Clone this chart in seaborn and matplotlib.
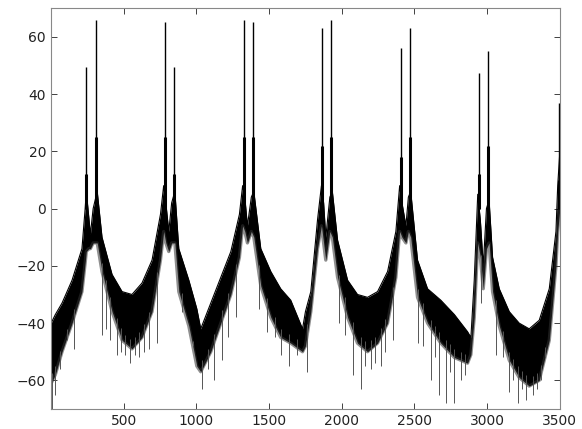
# plot.py
# Redraw of a dense spectrum-like trace with periodic twin resonance peaks.

import numpy as np
import pandas as pd
import matplotlib
matplotlib.use("Agg")
import matplotlib.pyplot as plt
import seaborn as sns

# Envelope of the dense band (sample index, top, bottom).
band_x = [1, 30, 76, 145, 213, 235, 243, 260, 271, 290, 318, 351, 420, 489, 557,
          626, 695, 753, 775, 790, 810, 830, 852, 879, 948, 1003, 1030, 1099,
          1168, 1237, 1296, 1318, 1333, 1351, 1378, 1395, 1443, 1512, 1580, 1649,
          1730, 1750, 1787, 1833, 1860, 1875, 1890, 1918, 1935, 1971, 2040, 2108,
          2177, 2246, 2315, 2372, 2398, 2414, 2441, 2458, 2474, 2521, 2590, 2681,
          2774, 2865, 2888, 2911, 2935, 2953, 2973, 2995, 3013, 3037, 3083, 3152,
          3220, 3289, 3358, 3427, 3473, 3485, 3500]
band_top = [-40, -37, -33, -25, -14, 0, 6, -3, -9, 0, 6, -10, -23, -29, -30,
            -26, -18, -2, 8, 2, -8, 2, 6, -14, -25, -35, -42, -33,
            -24, -15, -2, 8, 4, -6, 4, 6, -14, -22, -28, -32,
            -42, -36, -29, -4, 8, 2, -10, 4, 6, -11, -25, -30,
            -31, -29, -22, -8, 8, 2, -6, 4, 6, -18, -28, -32,
            -37, -43, -45, -25, 5, -4, -20, 0, 3, -17, -28, -36,
            -40, -42, -39, -28, -8, 8, 20]
band_bottom = [-61, -58, -50, -40, -29, -19, -15, -14, -14, -12, -12, -22, -36, -46, -49,
               -45, -36, -18, -8, -12, -15, -12, -12, -29, -41, -55, -57, -50,
               -40, -30, -17, -6, -8, -12, -8, -10, -27, -38, -45, -47,
               -50, -48, -36, -14, -6, -12, -18, -8, -10, -24, -38, -47,
               -50, -47, -40, -24, -8, -10, -12, -8, -10, -31, -40, -47,
               -52, -54, -51, -38, -12, -17, -28, -14, -12, -29, -41, -53,
               -59, -62, -60, -46, -20, -8, 0]

# Resonance peaks: sample index, dark stub height and thin tip level.
peak_x = [239, 308, 782, 844, 1325, 1387, 1867, 1927, 2406, 2466, 2945, 3005, 3493]
peak_mid = [12, 25, 25, 12, 25, 25, 22, 25, 18, 25, 12, 22, 10]
peak_top = [49.5, 66, 65, 49.5, 66, 65, 63, 66, 56, 63, 47.5, 55, 37]

# Isolated downward spikes below the band.
spike_x = [5, 30, 60, 110, 156, 351, 380, 409, 455, 480, 512, 546, 575, 604, 640,
           672, 730, 900, 980, 1042, 1080, 1122, 1179, 1220, 1271, 1431, 1489,
           1540, 1580, 1638, 1695, 1764, 1982, 2020, 2074, 2131, 2160, 2200, 2230,
           2269, 2300, 2349, 2521, 2560, 2613, 2640, 2670, 2716, 2745, 2774, 2819,
           2850, 2957, 3060, 3110, 3152, 3180, 3209, 3240, 3266, 3312, 3340, 3370,
           3400]
spike_low = [-70, -65, -56, -46, -49, -44, -42, -46, -51, -50, -51, -54, -51, -52, -50,
             -49, -47, -36, -48, -63, -56, -60, -53, -45, -38, -35, -43,
             -45, -51, -55, -51, -57, -40, -44, -58, -63, -55, -56, -54,
             -55, -50, -46, -47, -48, -60, -52, -65, -68, -57, -68, -60,
             -58, -33, -51, -52, -64, -60, -68, -63, -67, -65, -63, -60,
             -52]

band = pd.DataFrame({"x": band_x, "top": band_top, "bottom": band_bottom})
peaks = pd.DataFrame({"x": peak_x, "mid": peak_mid, "top": peak_top})
spikes = pd.DataFrame({"x": spike_x, "low": spike_low})

# MATLAB-like look: boxed axes, ticks pointing inward.
sns.set_style("ticks")
plt.rcParams["font.family"] = ["DejaVu Sans"]
plt.rcParams["xtick.direction"] = "in"
plt.rcParams["ytick.direction"] = "in"

fig = plt.figure(figsize=(5.82, 4.29), dpi=100)
ax = fig.add_axes([0.0876, 0.0466, 0.8744, 0.9344])

# Dense band: crisp top edge, fuzzy bottom edge.
ax.fill_between(band["x"], band["bottom"], band["top"], color="black", linewidth=0)
sns.lineplot(data=band, x="x", y="top", color="black", linewidth=0.8, ax=ax)
sns.lineplot(data=band, x="x", y="bottom", color="#333333", linewidth=2.4, alpha=0.55, ax=ax)

# Peaks: dark stub and thin tip.
ax.vlines(peaks["x"], 0, peaks["mid"], color="black", linewidth=2.2)
ax.vlines(peaks["x"], 0, peaks["top"], color="black", linewidth=1.0)

# Spikes start inside the band and hang below it.
spike_start = np.interp(spikes["x"], band["x"], band["bottom"]) + 3
ax.vlines(spikes["x"], spike_start, spikes["low"], color="#555555", linewidth=0.7)

ax.set_xlim(0, 3500)
ax.set_ylim(-70, 70)
ax.set_xticks([500, 1000, 1500, 2000, 2500, 3000, 3500])
ax.set_yticks([-60, -40, -20, 0, 20, 40, 60])
ax.set_xlabel("")
ax.set_ylabel("")
ax.tick_params(top=True, right=True, length=4, width=0.6, labelsize=10, colors="#222222")
for side in ax.spines.values():
    side.set_linewidth(0.8)
    side.set_color("#888888")

fig.savefig("out.png", dpi=100)
